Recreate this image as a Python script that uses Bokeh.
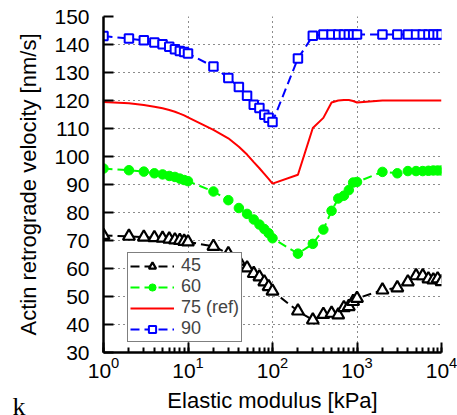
from bokeh.plotting import figure
from bokeh.models import Legend, LegendItem, Label, FixedTicker
from bokeh.embed import file_html
from bokeh.resources import INLINE

# Elastic modulus [kPa]
E = [1, 2, 3, 4, 5, 6, 7, 8, 9, 10, 20, 30, 40, 50, 60, 70, 80, 90, 100,
     200, 300, 400, 500, 600, 700, 800, 900, 1000,
     2000, 3000, 4000, 5000, 6000, 7000, 8000, 9000, 10000]

v45 = [71.8, 71.5, 71.2, 71.0, 70.8, 70.5, 70.2, 70.0, 69.7, 69.5, 67.9, 65.3, 62.6, 60.2,
       58.2, 57.0, 55.2, 53.5, 51.9, 44.8, 41.6, 43.6, 44.0, 43.4, 46.0, 46.4, 48.2, 49.3,
       52.3, 53.1, 55.2, 57.4, 57.4, 56.3, 55.9, 56.3, 55.3]
v60 = [95.7, 95.1, 94.6, 94.0, 93.6, 93.05, 92.7, 92.1, 91.6, 91.2, 87.5, 84.4, 81.6, 79.5,
       77.5, 75.7, 74.1, 72.6, 70.8, 65.3, 68.8, 73.9, 80.6, 85.0, 86.0, 88.0, 90.7, 90.9,
       94.5, 94.0, 94.8, 94.8, 94.8, 94.9, 95.0, 95.0, 95.0]
v75 = [119.5, 119.0, 118.4, 117.8, 117.2, 116.6, 116.0, 115.3, 114.7, 114.0, 109.5, 106.5,
       103.5, 100.7, 98.0, 95.8, 93.8, 92.0, 90.3, 93.5, 110.2, 113.8, 119.3, 120.0, 120.2,
       120.2, 119.8, 119.3, 120.0, 120.0, 120.0, 120.0, 120.0, 120.0, 120.0, 120.0, 120.0]
v90 = [143.0, 142.1, 141.5, 140.7, 140.1, 139.2, 138.3, 137.7, 137.3, 136.8, 132.1, 128.0,
       124.8, 121.7, 118.5, 117.3, 114.9, 113.8, 112.3, 135.0, 143.1, 143.6, 143.6, 143.6,
       143.6, 143.6, 143.6, 143.6, 143.6, 143.6, 143.6, 143.6, 143.6, 143.6, 143.6, 143.6, 143.6]

series_labels = ["45", "60", "75 (ref)", "90"]
yticks = [30, 40, 50, 60, 70, 80, 90, 100, 110, 120, 130, 140, 150]

FONT = "Liberation Sans"

p = figure(width=457, height=415, x_axis_type="log", x_range=(1, 10000), y_range=(30, 150),
           output_backend="svg", toolbar_location=None,
           min_border_left=103, min_border_right=16, min_border_top=16, min_border_bottom=61)
p.background_fill_color = "white"
p.border_fill_color = "white"
p.outline_line_color = None

dash = "9 5"
l45 = p.line(E, v45, color="black", line_width=2, line_dash=dash)
s45 = p.scatter(E, v45, marker="triangle", size=12, fill_color="white", line_color="black", line_width=2.2)
l60 = p.line(E, v60, color="#00ff00", line_width=2, line_dash=dash)
s60 = p.scatter(E, v60, marker="circle", size=9.5, fill_color="#00ff00", line_color="#00ff00", line_width=1)
l75 = p.line(E, v75, color="#ff0000", line_width=2)
l90 = p.line(E, v90, color="#0000ff", line_width=2, line_dash=dash)
s90 = p.scatter(E, v90, marker="square", size=8.5, fill_color="white", line_color="#0000ff", line_width=2)

legend = Legend(items=[
    LegendItem(label=series_labels[0], renderers=[l45, s45]),
    LegendItem(label=series_labels[1], renderers=[l60, s60]),
    LegendItem(label=series_labels[2], renderers=[l75]),
    LegendItem(label=series_labels[3], renderers=[l90, s90]),
], location=(24, 10))
legend.label_text_font = FONT
legend.label_text_font_size = "18px"
legend.border_line_color = "black"
legend.border_line_width = 1
legend.background_fill_color = "white"
legend.background_fill_alpha = 1
legend.padding = 2
legend.spacing = 0
legend.glyph_width = 44
legend.glyph_height = 18
legend.label_height = 18
legend.label_standoff = 7
legend.margin = 0
p.add_layout(legend)

# axes
p.yaxis.ticker = FixedTicker(ticks=yticks)
for ax in (p.xaxis, p.yaxis):
    ax.axis_line_width = 2.5
    ax.axis_line_color = "black"
    ax.major_tick_line_width = 2
    ax.minor_tick_line_width = 2
    ax.major_tick_in = 10
    ax.major_tick_out = 0
    ax.minor_tick_in = 5
    ax.minor_tick_out = 0
    ax.major_label_text_font = FONT
    ax.major_label_text_font_size = "21px"
    ax.major_label_text_color = "black"
    ax.axis_label_text_font = FONT
    ax.axis_label_text_font_size = "22px"
    ax.axis_label_text_font_style = "normal"
    ax.axis_label_text_color = "black"
p.yaxis.minor_tick_in = 0
p.yaxis.major_label_standoff = 14
p.xaxis.major_label_standoff = 4
p.xaxis.axis_label_standoff = 7
p.yaxis.axis_label_standoff = 10
p.xaxis.axis_label = "Elastic modulus [kPa]"
p.yaxis.axis_label = "Actin retrograde velocity [nm/s]"

for g in (p.xgrid, p.ygrid):
    g.grid_line_color = "black"
    g.grid_line_dash = "1 4"
    g.grid_line_width = 1
    g.grid_line_alpha = 0.9

# panel letter, placed in a side panel so it is not clipped to the frame
p.add_layout(Label(x=12, y=-54, x_units="screen", y_units="screen", text="k",
                   text_font="Liberation Serif", text_font_size="26px",
                   text_baseline="alphabetic", text_color="black"), "left")

open("out.html", "w").write(file_html(p, INLINE))
